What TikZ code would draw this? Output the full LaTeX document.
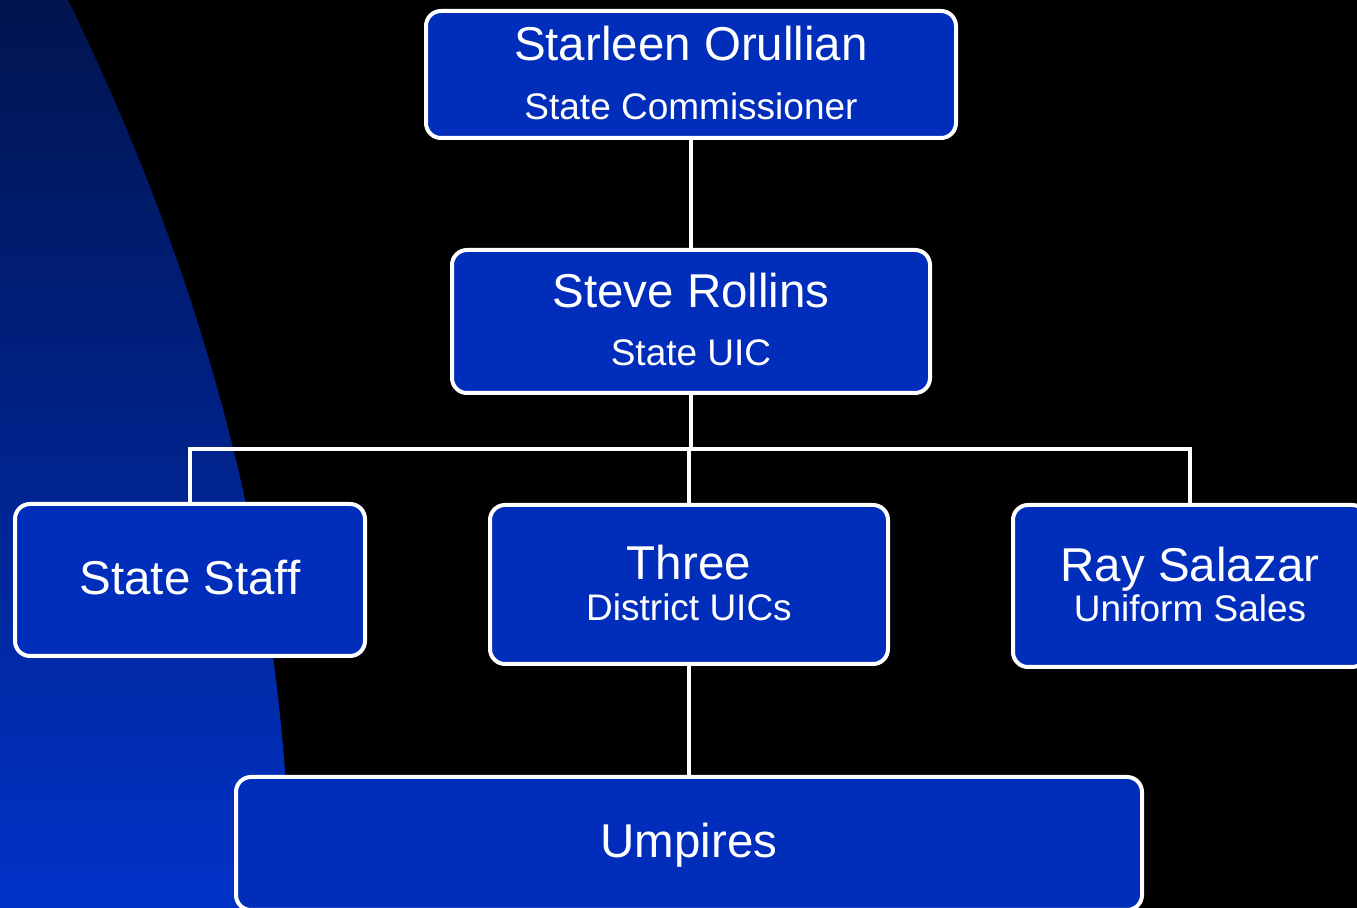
\documentclass[tikz,border=0pt]{standalone}
\usepackage{fontspec}
\setmainfont{Liberation Sans}
\definecolor{boxblue}{RGB}{0,45,185}
\definecolor{navytop}{RGB}{0,20,78}
\definecolor{navybot}{RGB}{0,50,200}
\tikzset{
  orgbox/.style={draw=white, line width=2pt, fill=boxblue, rounded corners=7.5pt, inner sep=0pt},
  big/.style={text=white, anchor=base, inner sep=0pt, font=\fontsize{23.75pt}{28pt}\selectfont},
  small/.style={text=white, anchor=base, inner sep=0pt, font=\fontsize{18.5pt}{22pt}\selectfont},
  wire/.style={draw=white, line width=2pt}
}
\begin{document}
\begin{tikzpicture}[x=0.5pt, y=-0.5pt]
\clip (0,0) rectangle (1357,908);
\fill[black] (0,0) rectangle (1357,908);
\shade[top color=navytop, bottom color=navybot]
  (0,0) -- (68,0) .. controls (216,302.7) and (290,605.3) .. (290,908) -- (0,908) -- cycle;
% boxes
\node[orgbox, minimum width=265pt, minimum height=63.5pt] (b1) at (691,74.5) {};
\node[orgbox, minimum width=239pt, minimum height=71.5pt] (b2) at (691,321.5) {};
\node[orgbox, minimum width=175pt, minimum height=76pt] (b3) at (190,580) {};
\node[orgbox, minimum width=199pt, minimum height=79.5pt] (b4) at (689,584.5) {};
\node[orgbox, minimum width=177pt, minimum height=81pt] (b5) at (1190,586) {};
\node[orgbox, minimum width=453pt, minimum height=66.5pt] (b6) at (689,843.5) {};
% connectors
\coordinate (bus) at (691,449);
\draw[wire] (b1.south) -- (b2.north);
\draw[wire] (b2.south) -- (bus);
\draw[wire] (b3.north) |- (bus) -| (b5.north);
\draw[wire] (b4.north) -- (b4.north |- bus);
\draw[wire] (b4.south) -- (b6.north);
% texts
\node[big] (t1) at (691,61) {Starleen Orullian};
\node[small] (s1) at (691,120) {State Commissioner};
\node[big] (t2) at (691,308) {Steve Rollins};
\node[small] (s2) at (691,366) {State UIC};
\node[big] (t3) at (190,595) {State Staff};
\node[big] (t4) at (689,580) {Three};
\node[small] (s4) at (689,621) {District UICs};
\node[big] (t5) at (1190,582) {Ray Salazar};
\node[small] (s5) at (1190,622) {Uniform Sales};
\node[big] (t6) at (689,858) {Umpires};
\end{tikzpicture}
\end{document}
